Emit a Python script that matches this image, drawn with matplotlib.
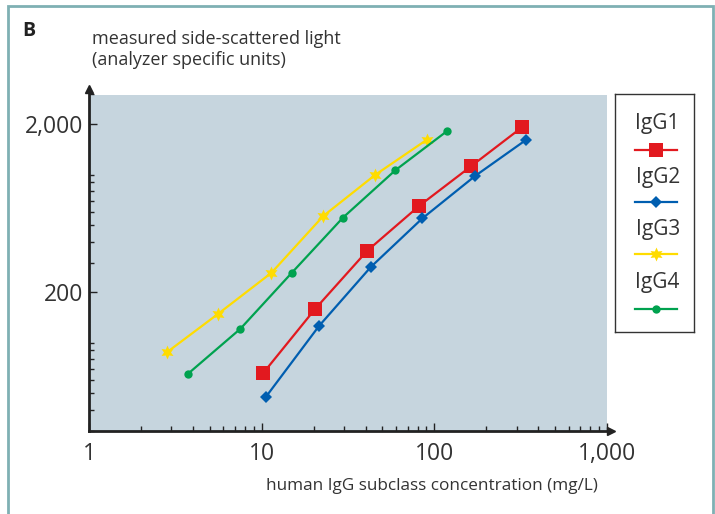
import matplotlib.pyplot as plt
import matplotlib.patches as patches
from matplotlib.ticker import FixedLocator, NullFormatter

plt.rcParams['font.family'] = ['Open Sans', 'DejaVu Sans']

# Series (log-log)
igg1_x = [10.2, 20.4, 40.9, 81.8, 164, 323]
igg1_y = [66, 159, 353, 653, 1127, 1920]
igg2_x = [10.6, 21.5, 42.8, 85.1, 172, 340]
igg2_y = [47.8, 126, 282, 549, 982, 1612]
igg3_x = [2.82, 5.61, 11.4, 22.7, 45.3, 90.3]
igg3_y = [87.7, 149, 261, 567, 995, 1612]
igg4_x = [3.73, 7.52, 14.9, 29.6, 59.4, 119]
igg4_y = [65.2, 121, 260, 556, 1062, 1824]

x_ticks = [1, 10, 100, 1000]
x_ticklabels = ['1', '10', '100', '1,000']
y_ticks = [200, 2000]
y_ticklabels = ['200', '2,000']

series = [
    ('IgG1', igg1_x, igg1_y, '#e2191f', 's', 9.5),
    ('IgG2', igg2_x, igg2_y, '#005eb0', 'D', 6.5),
    ('IgG3', igg3_x, igg3_y, '#ffdc00', (6, 1, 0), 10),
    ('IgG4', igg4_x, igg4_y, '#00a24f', 'o', 6),
]

W, H = 715, 514
fig = plt.figure(figsize=(W / 100, H / 100), dpi=100)

# Outer teal frame
frame = patches.Rectangle((8 / W, -0.05), (713 - 8) / W, 1.05 - 6 / H,
                          transform=fig.transFigure, fill=False,
                          edgecolor='#7fb0b3', linewidth=2)
fig.patches.append(frame)

ax = fig.add_axes([89 / W, 1 - 430.7 / H, (607 - 89) / W, (430.7 - 94.5) / H])
ax.set_facecolor('#c6d5de')
ax.set_xscale('log')
ax.set_yscale('log')
ax.set_xlim(1, 1000)
ax.set_ylim(30, 3000)

for name, xs, ys, color, marker, ms in series:
    ax.plot(xs, ys, color=color, lw=1.6, marker=marker, markersize=ms,
            markeredgewidth=0, zorder=3)

# Ticks
ax.xaxis.set_major_locator(FixedLocator(x_ticks))
ax.set_xticklabels(x_ticklabels)
minor_x = [m * 10 ** e for e in range(0, 3) for m in range(2, 10)]
ax.xaxis.set_minor_locator(FixedLocator(minor_x))
ax.xaxis.set_minor_formatter(NullFormatter())

ax.yaxis.set_major_locator(FixedLocator(y_ticks))
ax.set_yticklabels(y_ticklabels)
minor_y = [m * 10 ** e for e in range(1, 4) for m in range(1, 10)
           if m * 10 ** e not in y_ticks]
ax.yaxis.set_minor_locator(FixedLocator(minor_y))
ax.yaxis.set_minor_formatter(NullFormatter())

ax.tick_params(which='both', direction='in', color='#222222', width=1,
               labelsize=16.5, labelcolor='#333333')
ax.tick_params(which='major', length=6)
ax.tick_params(which='minor', length=3.5)
ax.tick_params(axis='x', which='major', pad=8)
ax.tick_params(axis='y', which='major', pad=4)

for side in ['top', 'right']:
    ax.spines[side].set_visible(False)
for side in ['left', 'bottom']:
    ax.spines[side].set_color('#222222')
    ax.spines[side].set_linewidth(2)

# Arrow heads on the axes
ax.plot(1.008, 0, '>', color='#222222', markersize=6, transform=ax.transAxes,
        clip_on=False)
ax.plot(0, 1.015, '^', color='#222222', markersize=6, transform=ax.transAxes,
        clip_on=False)

# Labels
fig.text(22 / W, 1 - 36 / H, 'B', fontsize=14, fontweight='bold', color='#222222')
fig.text(92 / W, 1 - 65 / H, 'measured side-scattered light\n(analyzer specific units)',
         fontsize=13, color='#333333', linespacing=1.25, va='baseline')
fig.text(598 / W, 1 - 490 / H, 'human IgG subclass concentration (mg/L)',
         fontsize=12.3, color='#333333', ha='right', va='baseline')

# Legend box
lax = fig.add_axes([615 / W, 1 - 332 / H, 79 / W, 238 / H])
lax.set_xlim(0, 1)
lax.set_ylim(0, 1)
lax.set_xticks([])
lax.set_yticks([])
for sp in lax.spines.values():
    sp.set_color('#333333')
    sp.set_linewidth(1)
text_y = [0.878, 0.651, 0.429, 0.206]
line_y = [0.765, 0.546, 0.328, 0.097]
for (name, xs, ys, color, marker, ms), ty, ly in zip(series, text_y, line_y):
    lax.text(0.54, ty, name, ha='center', va='center', fontsize=15, color='#333333')
    lax.plot([0.25, 0.52, 0.785], [ly, ly, ly], color=color, lw=1.6,
             marker=marker, markersize=ms, markevery=[1], markeredgewidth=0)

fig.savefig('out.png', dpi=100)
